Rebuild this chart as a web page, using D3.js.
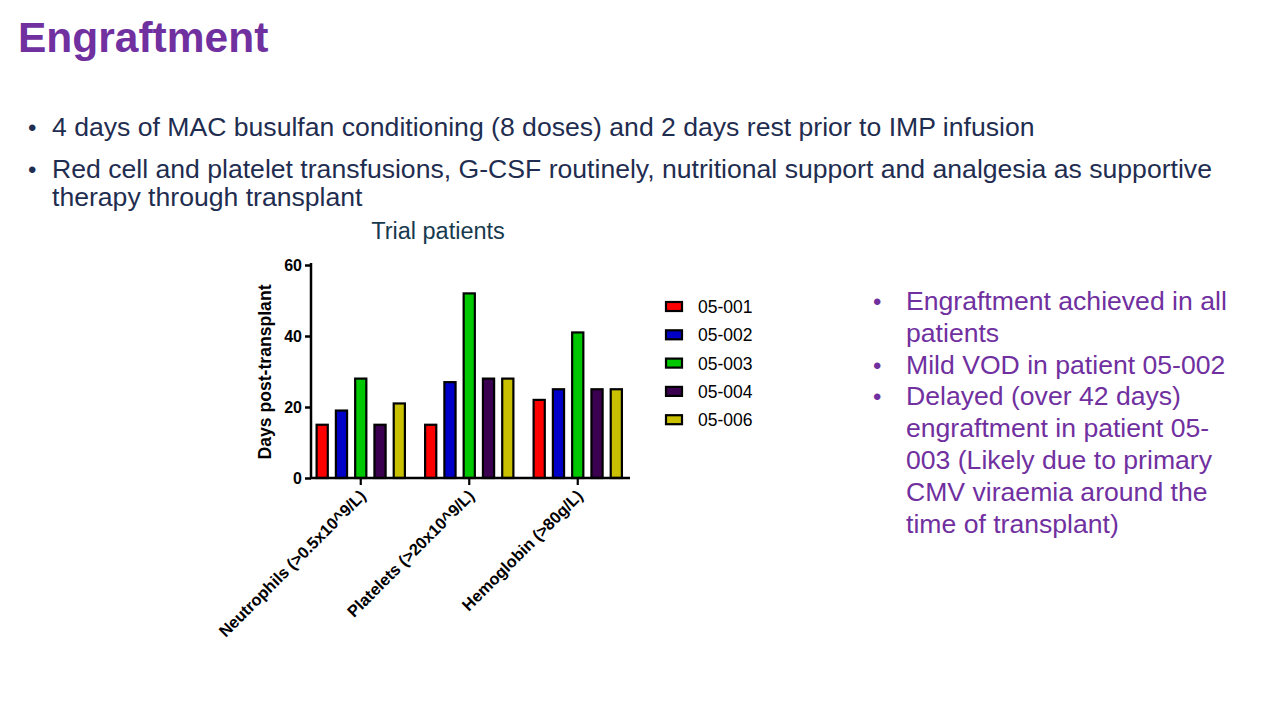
<!DOCTYPE html>
<html><head><meta charset="utf-8">
<script src="https://cdn.jsdelivr.net/npm/d3@7"></script>
<style>
body{margin:0;background:#fff;}
svg{display:block;font-family:"Liberation Sans",Arial,sans-serif;}
</style></head>
<body><svg id="c" width="1280" height="720"></svg>
<script>
const categories = ["Neutrophils (>0.5x10^9/L)", "Platelets (>20x10^9/L)", "Hemoglobin (>80g/L)"];
const patients = ["05-001", "05-002", "05-003", "05-004", "05-006"];
const colors = ["#ff0000", "#0000c8", "#00c800", "#3c0050", "#c8c000"];
const v05_001 = [15, 15, 22];
const v05_002 = [19, 27, 25];
const v05_003 = [28, 52, 41];
const v05_004 = [15, 28, 25];
const v05_006 = [21, 28, 25];
const series = [v05_001, v05_002, v05_003, v05_004, v05_006];
const yTicks = [0, 20, 40, 60];

const svg = d3.select("#c");

// Title
svg.append("text").attr("x", 18).attr("y", 52).attr("font-size", 42.5).attr("font-weight", "bold")
  .attr("fill", "#7030a0").text("Engraftment");

// Left bullets
const navy = "#1f2d50";
const lb = [
  {b:true, t:"4 days of MAC busulfan conditioning (8 doses) and 2 days rest prior to IMP infusion", y:136},
  {b:true, t:"Red cell and platelet transfusions, G-CSF routinely, nutritional support and analgesia as supportive", y:178},
  {b:false, t:"therapy through transplant", y:206}
];
lb.forEach(d => {
  if (d.b) svg.append("text").attr("x", 28).attr("y", d.y).attr("font-size", 24).attr("fill", navy).text("•");
  svg.append("text").attr("x", 52).attr("y", d.y).attr("font-size", 26.6).attr("fill", navy).text(d.t);
});

// Right bullets
const purple = "#7030a0";
const rb = [
  {b:true, t:"Engraftment achieved in all"},
  {b:false, t:"patients"},
  {b:true, t:"Mild VOD in patient 05-002"},
  {b:true, t:"Delayed (over 42 days)"},
  {b:false, t:"engraftment in patient 05-"},
  {b:false, t:"003 (Likely due to primary"},
  {b:false, t:"CMV viraemia around the"},
  {b:false, t:"time of transplant)"}
];
rb.forEach((d, i) => {
  const y = 310 + i * 31.8;
  if (d.b) svg.append("text").attr("x", 873).attr("y", y).attr("font-size", 24).attr("fill", purple).text("•");
  svg.append("text").attr("x", 906).attr("y", y).attr("font-size", 26.6).attr("fill", purple).text(d.t);
});

// Chart
const y = d3.scaleLinear().domain([0, 60]).range([478, 265]);
const x0 = d3.scaleBand().domain(categories).range([306.5, 632]).padding(0);
const x1 = d3.scaleBand().domain(patients).range([-48, 48]).paddingInner(0.42).paddingOuter(0.2);

svg.append("text").attr("x", 438).attr("y", 239).attr("text-anchor", "middle").attr("font-size", 23.5)
  .attr("fill", "#173a4e").text("Trial patients");

const g = svg.append("g");
categories.forEach((c, ci) => {
  const cx = x0(c) + x0.bandwidth() / 2;
  patients.forEach((p, pi) => {
    const v = series[pi][ci];
    g.append("rect")
      .attr("x", cx + x1(p)).attr("y", y(v))
      .attr("width", x1.bandwidth()).attr("height", y(0) - y(v))
      .attr("fill", colors[pi]).attr("stroke", "#000").attr("stroke-width", 2.2);
  });
});

// Y axis
const yAxis = d3.axisLeft(y).tickValues(yTicks).tickSize(6).tickPadding(3);
const ya = svg.append("g").attr("transform", "translate(311,0)").call(yAxis);
ya.attr("font-size", null).attr("font-family", null);
ya.select(".domain").attr("stroke-width", 2.5).attr("d", "M0,478V263");
ya.selectAll(".tick line").attr("stroke-width", 2.5);
ya.selectAll(".tick text").style("font-size", "16px").style("font-weight", "bold").attr("fill", "#000");

svg.append("text").attr("transform", "translate(271,372) rotate(-90)").attr("text-anchor", "middle")
  .attr("font-size", 17.6).attr("font-weight", "bold").attr("fill", "#000").text("Days post-transplant");

// X axis
const xa = svg.append("g").attr("transform", "translate(0,478)")
  .call(d3.axisBottom(x0).tickSize(7).tickSizeOuter(0).tickFormat(""));
xa.select(".domain").attr("stroke-width", 2.5).attr("d", "M310,0H630");
xa.selectAll(".tick line").attr("stroke-width", 2.2);
categories.forEach(c => {
  const cx = x0(c) + x0.bandwidth() / 2;
  svg.append("text").attr("transform", `translate(${cx + 6},${497}) rotate(-45)`)
    .attr("text-anchor", "end").attr("font-size", 16.4).attr("font-weight", "bold").attr("fill", "#000")
    .text(c);
});

// Legend
patients.forEach((p, i) => {
  const ly = 307 + i * 28.3;
  svg.append("rect").attr("x", 666).attr("y", ly - 5).attr("width", 16).attr("height", 9)
    .attr("fill", colors[i]).attr("stroke", "#000").attr("stroke-width", 2.2);
  svg.append("text").attr("x", 698).attr("y", ly + 6).attr("font-size", 17.5).attr("fill", "#000").text(p);
});
</script></body></html>
